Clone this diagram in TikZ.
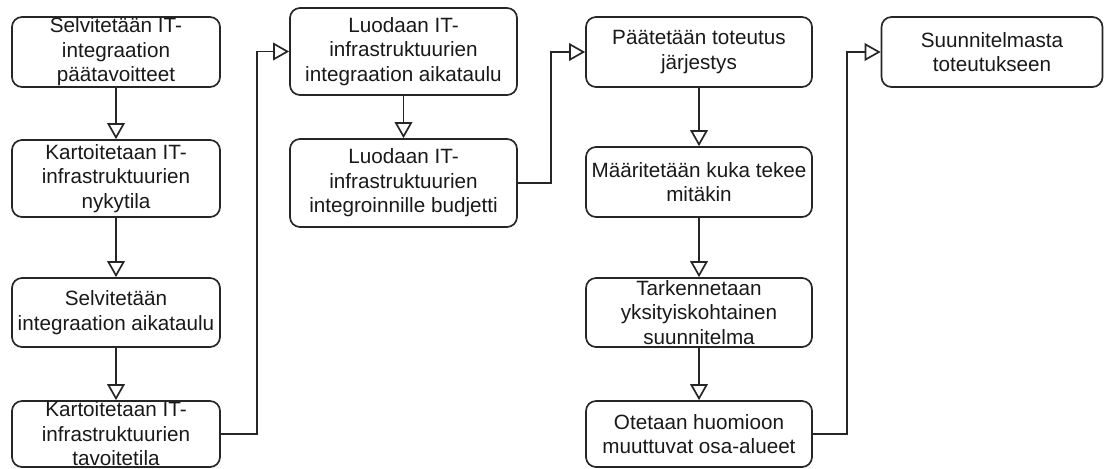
\documentclass[tikz,border=0pt]{standalone}
\usepackage{fontspec}
\setmainfont{Liberation Sans}
\usetikzlibrary{arrows.meta}
\def\unit{0.025cm}
\tikzset{
  stepbox/.style={draw=black!85,line width=1.2pt,rounded corners=0.25cm,inner sep=0pt,minimum width=#1*\unit},
  steptext/.style={align=center,inner sep=0pt,text=black!90,font=\fontsize{14.7}{17.4}\selectfont},
  flow/.style={draw=black!85,line width=1.2pt,-{Triangle[open,length=0.4cm,width=0.44cm]}}
}
\begin{document}
\begin{tikzpicture}[x=\unit,y=-\unit]%
\useasboundingbox (0,0) rectangle (1104,468);%
%
% first column
\def\colx{116};%
\node[stepbox=208,minimum height=70*\unit,label={[steptext]center:{Selvitetään IT-\\integraation\\päätavoitteet}}] (A1) at (\colx,52) {};%
\node[stepbox=208,minimum height=77*\unit,label={[steptext]center:{Kartoitetaan IT-\\infrastruktuurien\\nykytila}}] (A2) at (\colx,178.5) {};%
\node[stepbox=208,minimum height=69*\unit,label={[steptext]center:{Selvitetään\\integraation aikataulu}}] (A3) at (\colx,312.5) {};%
\node[stepbox=208,minimum height=66*\unit,label={[steptext]center:{Kartoitetaan IT-\\infrastruktuurien\\tavoitetila}}] (A4) at (\colx,434) {};%
%
% second column
\def\colx{403.5};%
\node[stepbox=227,minimum height=87*\unit,label={[steptext]center:{Luodaan IT-\\infrastruktuurien\\integraation aikataulu}}] (B1) at (\colx,51.5) {};%
\node[stepbox=227,minimum height=88*\unit,label={[steptext]center:{Luodaan IT-\\infrastruktuurien\\integroinnille budjetti}}] (B2) at (\colx,183) {};%
%
% third column
\def\colx{699};%
\node[stepbox=226,minimum height=70*\unit,label={[steptext]center:{Päätetään toteutus\\järjestys}}] (C1) at (\colx,52) {};%
\node[stepbox=226,minimum height=70*\unit,label={[steptext]center:{Määritetään kuka tekee\\mitäkin}}] (C2) at (\colx,182) {};%
\node[stepbox=226,minimum height=69*\unit,label={[steptext]center:{Tarkennetaan\\yksityiskohtainen\\suunnitelma}}] (C3) at (\colx,312.5) {};%
\node[stepbox=226,minimum height=66*\unit,label={[steptext]center:{Otetaan huomioon\\muuttuvat osa-alueet}}] (C4) at (\colx,434) {};%
%
% last column
\def\colx{992};%
\node[stepbox=221,minimum height=70*\unit,label={[steptext]center:{Suunnitelmasta\\toteutukseen}}] (D1) at (\colx,52) {};%
%
% arrows
\draw[flow] (A1) -- (A2);%
\draw[flow] (A2) -- (A3);%
\draw[flow] (A3) -- (A4);%
\draw[flow] (A4.east) -- ++(36,0) |- (B1.west);%
\draw[flow] (B1) -- (B2);%
\draw[flow] (B2.east) -- ++(33,0) |- (C1.west);%
\draw[flow] (C1) -- (C2);%
\draw[flow] (C2) -- (C3);%
\draw[flow] (C3) -- (C4);%
\draw[flow] (C4.east) -- ++(34,0) |- (D1.west);%
%
\end{tikzpicture}
\end{document}
